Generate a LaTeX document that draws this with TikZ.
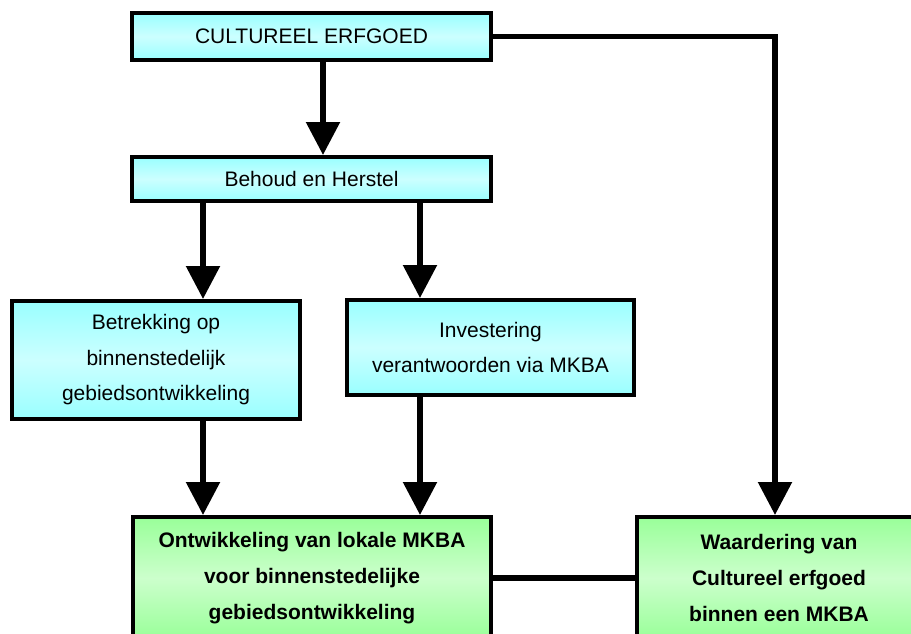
\documentclass[tikz,border=0pt]{standalone}
\usepackage{fontspec}
\setmainfont{Liberation Sans}
\usetikzlibrary{arrows.meta}
\definecolor{cyanedge}{HTML}{99FFFF}
\definecolor{cyanmid}{HTML}{CCFFFF}
\definecolor{greenedge}{HTML}{99FF99}
\definecolor{greenmid}{HTML}{CCFFCC}
\begin{document}
\begin{tikzpicture}[x=1pt,y=-1pt,
  bluebox/.style={draw=black, line width=4pt, rectangle, inner sep=0pt, align=center,
    top color=cyanedge, bottom color=cyanedge, middle color=cyanmid,
    font=\fontsize{21pt}{35.5pt}\selectfont},
  greenbox/.style={draw=black, line width=4pt, rectangle, inner sep=0pt, align=center,
    top color=greenedge, bottom color=greenedge, middle color=greenmid,
    font=\fontsize{21pt}{36pt}\selectfont\bfseries},
  flow/.style={line width=5.5pt, -{Triangle[width=33pt,length=33pt]}},
  link/.style={line width=5.5pt, line join=miter}]

% page frame
\useasboundingbox (0,0) rectangle (911,634);
\clip (0,0) rectangle (911,634);

% boxes
\node[bluebox, minimum width=359pt, minimum height=47pt] (cult) at (311.5,36.5) {CULTUREEL ERFGOED};
\node[bluebox, minimum width=359pt, minimum height=44pt] (behoud) at (311.5,179) {Behoud en Herstel};
\node[bluebox, minimum width=288pt, minimum height=118pt] (betr) at (156,360)
  {Betrekking op\\binnenstedelijk\\gebiedsontwikkeling};
\node[bluebox, minimum width=287pt, minimum height=95pt] (inv) at (490.5,347.5)
  {Investering\\verantwoorden via MKBA};
\node[greenbox, minimum width=358pt, minimum height=122pt] (ontw) at (312,578)
  {Ontwikkeling van lokale MKBA\\voor binnenstedelijke\\gebiedsontwikkeling};
\node[greenbox, minimum width=284pt, minimum height=122pt] (waard) at (779,578)
  {Waardering van\\Cultureel erfgoed\\binnen een MKBA};

% columns of the vertical connectors
\coordinate (xa) at (323,0);
\coordinate (xl) at (203,0);
\coordinate (xr) at (420,0);
\coordinate (xw) at (775,0);

% connectors
\draw[flow] (cult.south -| xa) -- (behoud.north -| xa);
\draw[flow] (behoud.south -| xl) -- (betr.north -| xl);
\draw[flow] (behoud.south -| xr) -- (inv.north -| xr);
\draw[flow] (betr.south -| xl) -- (ontw.north -| xl);
\draw[flow] (inv.south -| xr) -- (ontw.north -| xr);
\draw[flow, line join=miter] (cult.east) -| (waard.north -| xw);
\draw[link] (ontw.east) -- (waard.west);
\end{tikzpicture}
\end{document}
